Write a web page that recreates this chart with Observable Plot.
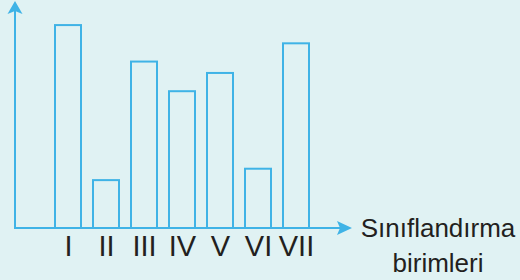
<!DOCTYPE html>
<html><head><meta charset="utf-8">
<script src="https://cdn.jsdelivr.net/npm/d3@7"></script>
<script src="https://cdn.jsdelivr.net/npm/@observablehq/plot@0.6"></script>
<style>html,body{margin:0;padding:0;background:#e0f2f3;}</style>
</head><body><div id="chart"></div>
<script>
const categories = ["I", "II", "III", "IV", "V", "VI", "VII"];
const values = [8.9, 2.1, 7.3, 6.0, 6.8, 2.6, 8.1];
const axisTitle = ["Sınıflandırma", "birimleri"];

const data = categories.map((c, i) => ({category: c, value: values[i]}));
const bg = "#e0f2f3";
const blue = "#3fb3e6";
const ink = "#231f20";
const font = "'Liberation Sans', Arial, sans-serif";

function axesMark(index, scales, vals, dims) {
  const g = d3.create("svg:g");
  const x0 = dims.marginLeft, y0 = dims.height - dims.marginBottom;
  const x1 = dims.width - dims.marginRight, yTop = dims.marginTop + 1;
  g.append("line").attr("x1", x0).attr("x2", x0).attr("y1", y0 + 1).attr("y2", yTop + 10)
    .attr("stroke", blue).attr("stroke-width", 2);
  g.append("line").attr("x1", x0 - 1).attr("x2", x1 - 10).attr("y1", y0).attr("y2", y0)
    .attr("stroke", blue).attr("stroke-width", 2);
  g.append("path").attr("fill", blue)
    .attr("d", `M${x0},${yTop} L${x0 + 7.5},${yTop + 13} L${x0},${yTop + 10} L${x0 - 7.5},${yTop + 13} Z`);
  g.append("path").attr("fill", blue)
    .attr("d", `M${x1},${y0} L${x1 - 15},${y0 - 7} L${x1 - 12},${y0} L${x1 - 15},${y0 + 7} Z`);
  const t = g.append("text").attr("fill", ink).attr("font-family", font)
    .attr("font-size", 26).attr("text-anchor", "middle");
  t.append("tspan").attr("x", x1 + 86).attr("y", y0 + 9).text(axisTitle[0]);
  t.append("tspan").attr("x", x1 + 86).attr("y", y0 + 44).text(axisTitle[1]);
  return g.node();
}

const plot = Plot.plot({
  width: 520,
  height: 280,
  marginTop: 0,
  marginLeft: 15,
  marginRight: 168,
  marginBottom: 52,
  style: {background: bg, fontFamily: font},
  x: {domain: categories, range: [53, 311], paddingInner: 0.325, paddingOuter: 0},
  y: {domain: [0, 10], axis: null},
  marks: [
    Plot.barY(data, {x: "category", y: "value", fill: bg, stroke: blue, strokeWidth: 2}),
    axesMark,
    Plot.axisX({tickSize: 0, tickPadding: 7, fontSize: 29, fill: ink, fontFamily: font, label: null})
  ]
});
document.getElementById("chart").append(plot);
</script>
</body></html>
